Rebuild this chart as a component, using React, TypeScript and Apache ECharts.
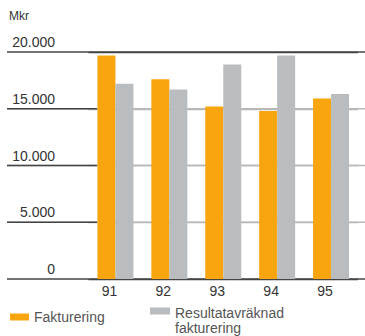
import React, { useEffect, useRef } from "react";
import * as echarts from "echarts";

// Fakturering vs resultatavräknad fakturering, Mkr per år
const years = ["91", "92", "93", "94", "95"];
const fakturering = [19700, 17600, 15200, 14800, 15900];
const resultatavraknad = [17200, 16700, 18900, 19700, 16300];
const yTicks = [0, 5000, 10000, 15000, 20000];
const yTickLabels = ["0", "5.000", "10.000", "15.000", "20.000"];

const ORANGE = "#F8A50F";
const GREY = "#BABDBF";
const RULE_DARK = "#444";
const RULE_LIGHT = "#b8b8b8";
const FONT = "'Liberation Sans', Arial, Helvetica, sans-serif";

const Y_MIN = yTicks[0];
const Y_MAX = yTicks[yTicks.length - 1];
const Y_STEP = yTicks[1] - yTicks[0];

const GRID_LEFT = 88.5;
const GRID_TOP = 52;
const GRID_H = 227;
const RULE_LEFT = 7;
const RULE_DARK_END = 97;
const RULE_W = 1.3;

function tickLabel(v: number): string {
  const i = yTicks.indexOf(v);
  return i >= 0 ? yTickLabels[i] : "";
}

export default function App() {
  const ref = useRef<HTMLDivElement>(null);

  useEffect(() => {
    document.body.style.margin = "0";
    if (!ref.current) return;
    const chart = echarts.init(ref.current, undefined, { renderer: "svg" });

    chart.setOption({
      animation: false,
      textStyle: { fontFamily: FONT },
      title: {
        text: "Mkr",
        left: 9,
        top: 10,
        padding: 0,
        textStyle: { fontSize: 12, fontWeight: "normal", color: "#333", fontFamily: FONT },
      },
      grid: { left: GRID_LEFT, right: 7, top: GRID_TOP, height: GRID_H },
      xAxis: {
        type: "category",
        data: years,
        axisLine: { show: false },
        axisTick: { show: false },
        splitLine: { show: false },
        axisLabel: {
          fontSize: 14,
          color: "#333",
          margin: 5,
          padding: [0, 12, 0, 0],
          fontFamily: FONT,
        },
      },
      yAxis: {
        type: "value",
        min: Y_MIN,
        max: Y_MAX,
        interval: Y_STEP,
        axisLine: { show: false },
        axisTick: { show: false },
        axisLabel: {
          margin: GRID_LEFT - 55,
          verticalAlign: "bottom",
          padding: [0, 0, 3, 0],
          fontSize: 14,
          color: "#333",
          fontFamily: FONT,
          formatter: (v: number) => tickLabel(v),
        },
        splitLine: {
          show: true,
          lineStyle: {
            color: [RULE_DARK, RULE_LIGHT, RULE_LIGHT, RULE_LIGHT, RULE_DARK],
            width: RULE_W,
          },
        },
      },
      legend: [
        {
          data: ["Fakturering"],
          left: 10,
          top: 310,
          padding: 0,
          itemWidth: 19,
          itemHeight: 7,
          icon: "rect",
          selectedMode: false,
          textStyle: { fontSize: 14, color: "#555", fontFamily: FONT },
        },
        {
          data: ["Resultatavräknad fakturering"],
          left: 150,
          top: 305.5,
          padding: 0,
          itemWidth: 20,
          itemHeight: 30,
          icon: "path://M0,4h20v7h-20z M0,30h0.01",
          selectedMode: false,
          formatter: (name: string) => name.replace(" ", "\n"),
          textStyle: { fontSize: 14, lineHeight: 15, color: "#555", fontFamily: FONT },
        },
      ],
      series: [
        {
          type: "bar",
          name: "Fakturering",
          data: fakturering,
          barWidth: 18,
          barGap: "0%",
          z: 3,
          itemStyle: { color: ORANGE },
        },
        {
          type: "bar",
          name: "Resultatavräknad fakturering",
          data: resultatavraknad,
          barWidth: 18,
          barGap: "0%",
          z: 3,
          itemStyle: { color: GREY },
        },
      ],
    });

    // extend the rules across the full width, darker under the value labels
    try {
      const width = chart.getWidth();
      const rules: any[] = [];
      yTicks.forEach((v) => {
        const y = chart.convertToPixel({ yAxisIndex: 0 }, v);
        if (typeof y !== "number" || !isFinite(y)) return;
        const edge = v === Y_MIN || v === Y_MAX;
        rules.push({
          type: "rect",
          z: 1,
          silent: true,
          shape: { x: RULE_LEFT, y: y - RULE_W / 2, width: width - RULE_LEFT, height: RULE_W },
          style: { fill: edge ? RULE_DARK : RULE_LIGHT },
        });
        if (!edge) {
          rules.push({
            type: "rect",
            z: 1,
            silent: true,
            shape: { x: RULE_LEFT, y: y - RULE_W / 2, width: RULE_DARK_END - RULE_LEFT, height: RULE_W },
            style: { fill: RULE_DARK },
          });
        }
      });
      chart.setOption({ graphic: rules });
    } catch (e) {
      // the axis split lines remain as the rules
    }

    return () => chart.dispose();
  }, []);

  return <div ref={ref} style={{ width: 365, height: 336 }} />;
}
